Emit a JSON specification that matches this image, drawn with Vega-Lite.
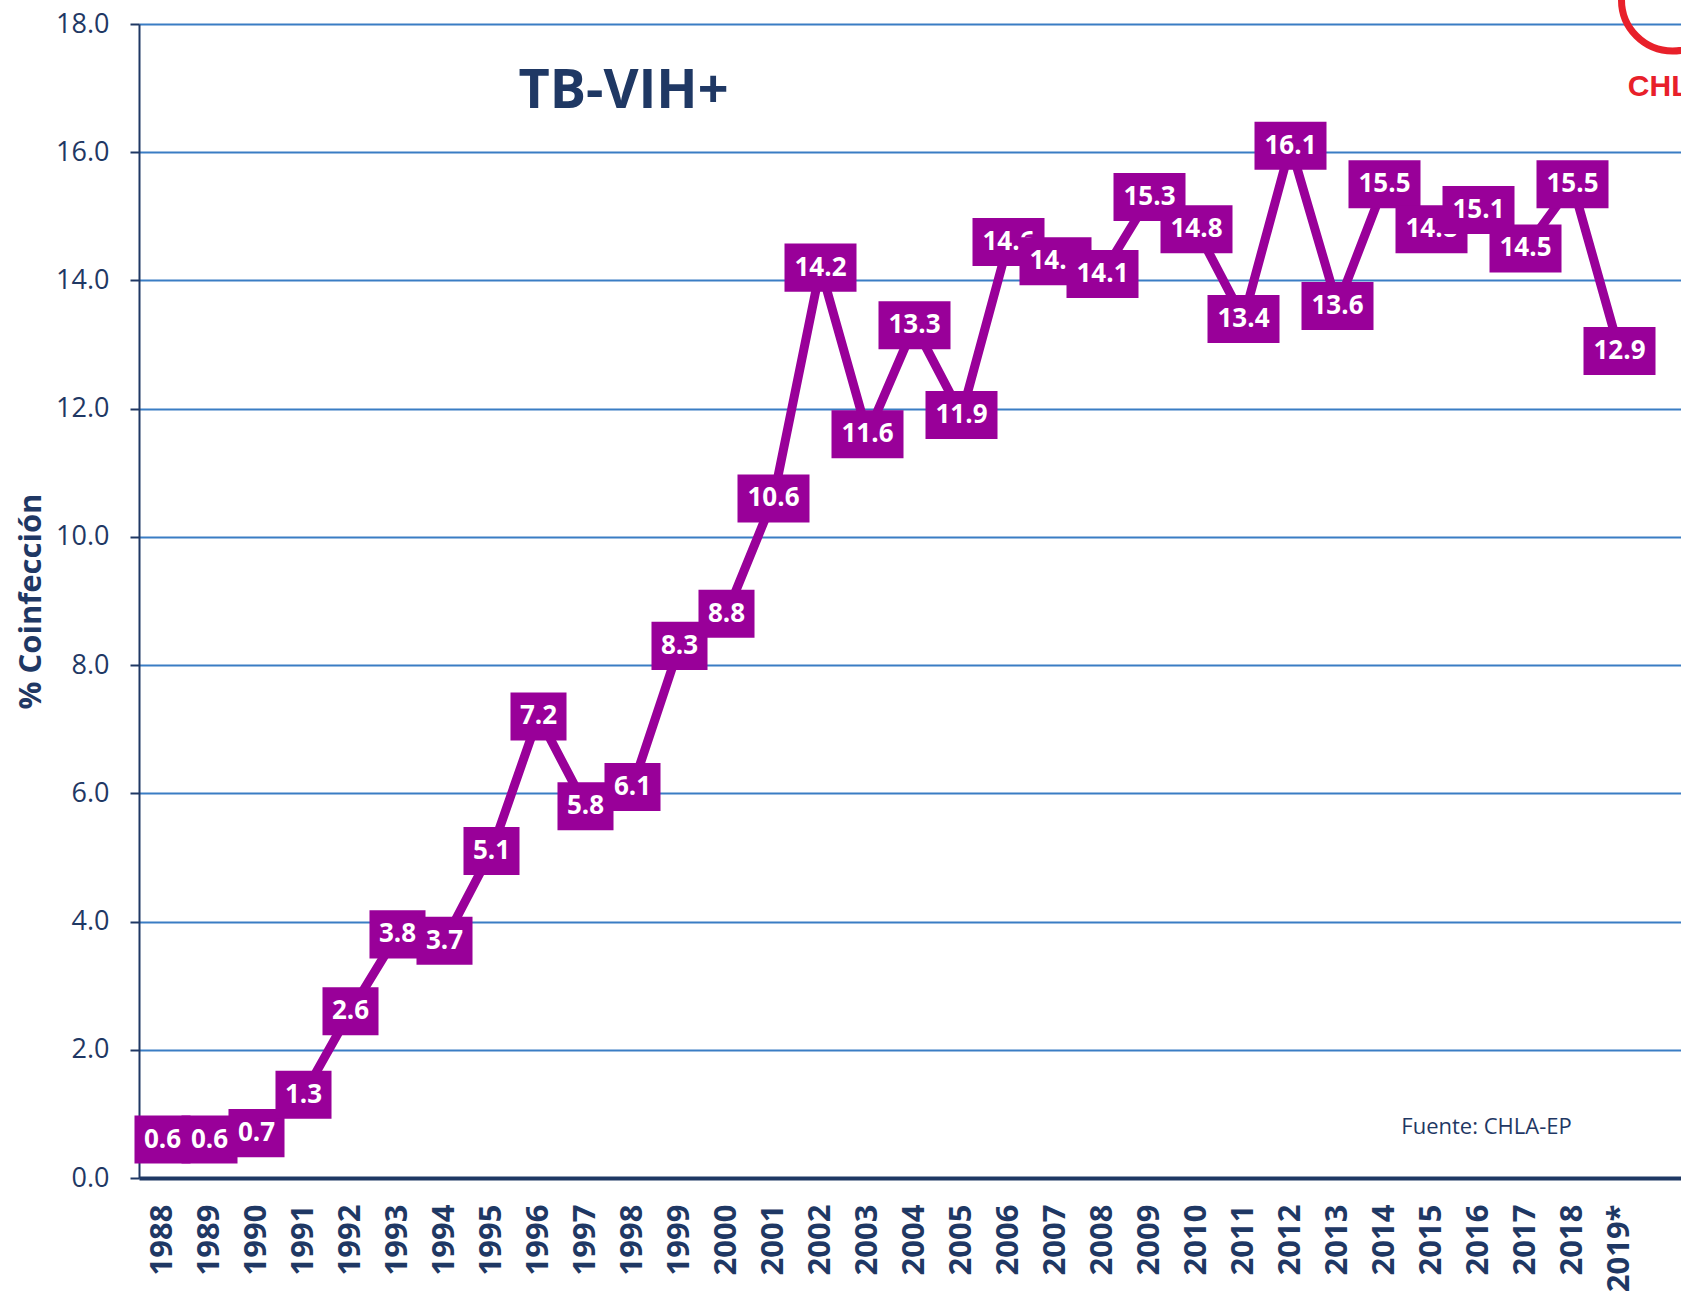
{
  "$schema": "https://vega.github.io/schema/vega-lite/v6.json",
  "width": 1542,
  "height": 1154,
  "autosize": {"type": "none"},
  "padding": {"left": 139, "top": 24, "right": 0, "bottom": 118},
  "background": "white",
  "data": {"values": [
    {"year": "1988", "v": 0.6}, {"year": "1989", "v": 0.6}, {"year": "1990", "v": 0.7}, {"year": "1991", "v": 1.3},
    {"year": "1992", "v": 2.6}, {"year": "1993", "v": 3.8}, {"year": "1994", "v": 3.7}, {"year": "1995", "v": 5.1},
    {"year": "1996", "v": 7.2}, {"year": "1997", "v": 5.8}, {"year": "1998", "v": 6.1}, {"year": "1999", "v": 8.3},
    {"year": "2000", "v": 8.8}, {"year": "2001", "v": 10.6}, {"year": "2002", "v": 14.2}, {"year": "2003", "v": 11.6},
    {"year": "2004", "v": 13.3}, {"year": "2005", "v": 11.9}, {"year": "2006", "v": 14.6}, {"year": "2007", "v": 14.3},
    {"year": "2008", "v": 14.1}, {"year": "2009", "v": 15.3}, {"year": "2010", "v": 14.8}, {"year": "2011", "v": 13.4},
    {"year": "2012", "v": 16.1}, {"year": "2013", "v": 13.6}, {"year": "2014", "v": 15.5}, {"year": "2015", "v": 14.8},
    {"year": "2016", "v": 15.1}, {"year": "2017", "v": 14.5}, {"year": "2018", "v": 15.5}, {"year": "2019*", "v": 12.9}
  ]},
  "encoding": {
    "x": {"field": "year", "type": "ordinal", "sort": null,
      "scale": {"type": "point", "domain": ["1988","1989","1990","1991","1992","1993","1994","1995","1996","1997","1998","1999","2000","2001","2002","2003","2004","2005","2006","2007","2008","2009","2010","2011","2012","2013","2014","2015","2016","2017","2018","2019*"," "], "range": [0, 1551], "padding": 0.5},
      "axis": {"title": null, "labelAngle": -90, "labelFont": "Open Sans", "labelFontSize": 31, "labelFontWeight": "bold", "labelColor": "#1F3864", "labelPadding": 26, "labelOverlap": false, "ticks": false, "tickSize": 0, "domainColor": "#1F3864", "domainWidth": 4, "grid": false}},
    "y": {"field": "v", "type": "quantitative",
      "scale": {"domain": [0, 18], "nice": false},
      "axis": {"title": "% Coinfección", "values": [0, 2, 4, 6, 8, 10, 12, 14, 16, 18], "format": ".1f", "labelFont": "Open Sans", "labelFontSize": 27, "labelColor": "#1F3864", "labelPadding": 21, "tickSize": 9, "tickWidth": 2, "tickColor": "#1F3864", "domainColor": "#1F3864", "domainWidth": 2, "grid": true, "gridColor": "#3A7DC4", "gridWidth": 2, "titleFont": "Open Sans", "titleFontSize": 31, "titleFontWeight": "bold", "titleColor": "#1F3864", "titlePadding": 8}}
  },
  "layer": [
    {"mark": {"type": "line", "color": "#990099", "strokeWidth": 9}},
    {"transform": [{"filter": "datum.year == '1988'"}], "layer": [{"mark": {"type": "point", "shape": "M-0.778,-0.667L0.778,-0.667L0.778,0.667L-0.778,0.667Z"}}, {"mark": {"type": "text"}, "encoding": {"text": {"field": "v", "format": ".1f"}}}]},
    {"transform": [{"filter": "datum.year == '1989'"}], "layer": [{"mark": {"type": "point", "shape": "M-0.778,-0.667L0.778,-0.667L0.778,0.667L-0.778,0.667Z"}}, {"mark": {"type": "text"}, "encoding": {"text": {"field": "v", "format": ".1f"}}}]},
    {"transform": [{"filter": "datum.year == '1990'"}], "layer": [{"mark": {"type": "point", "shape": "M-0.778,-0.667L0.778,-0.667L0.778,0.667L-0.778,0.667Z"}}, {"mark": {"type": "text"}, "encoding": {"text": {"field": "v", "format": ".1f"}}}]},
    {"transform": [{"filter": "datum.year == '1991'"}], "layer": [{"mark": {"type": "point", "shape": "M-0.778,-0.667L0.778,-0.667L0.778,0.667L-0.778,0.667Z"}}, {"mark": {"type": "text"}, "encoding": {"text": {"field": "v", "format": ".1f"}}}]},
    {"transform": [{"filter": "datum.year == '1992'"}], "layer": [{"mark": {"type": "point", "shape": "M-0.778,-0.667L0.778,-0.667L0.778,0.667L-0.778,0.667Z"}}, {"mark": {"type": "text"}, "encoding": {"text": {"field": "v", "format": ".1f"}}}]},
    {"transform": [{"filter": "datum.year == '1993'"}], "layer": [{"mark": {"type": "point", "shape": "M-0.778,-0.667L0.778,-0.667L0.778,0.667L-0.778,0.667Z"}}, {"mark": {"type": "text"}, "encoding": {"text": {"field": "v", "format": ".1f"}}}]},
    {"transform": [{"filter": "datum.year == '1994'"}], "layer": [{"mark": {"type": "point", "shape": "M-0.778,-0.667L0.778,-0.667L0.778,0.667L-0.778,0.667Z"}}, {"mark": {"type": "text"}, "encoding": {"text": {"field": "v", "format": ".1f"}}}]},
    {"transform": [{"filter": "datum.year == '1995'"}], "layer": [{"mark": {"type": "point", "shape": "M-0.778,-0.667L0.778,-0.667L0.778,0.667L-0.778,0.667Z"}}, {"mark": {"type": "text"}, "encoding": {"text": {"field": "v", "format": ".1f"}}}]},
    {"transform": [{"filter": "datum.year == '1996'"}], "layer": [{"mark": {"type": "point", "shape": "M-0.778,-0.667L0.778,-0.667L0.778,0.667L-0.778,0.667Z"}}, {"mark": {"type": "text"}, "encoding": {"text": {"field": "v", "format": ".1f"}}}]},
    {"transform": [{"filter": "datum.year == '1997'"}], "layer": [{"mark": {"type": "point", "shape": "M-0.778,-0.667L0.778,-0.667L0.778,0.667L-0.778,0.667Z"}}, {"mark": {"type": "text"}, "encoding": {"text": {"field": "v", "format": ".1f"}}}]},
    {"transform": [{"filter": "datum.year == '1998'"}], "layer": [{"mark": {"type": "point", "shape": "M-0.778,-0.667L0.778,-0.667L0.778,0.667L-0.778,0.667Z"}}, {"mark": {"type": "text"}, "encoding": {"text": {"field": "v", "format": ".1f"}}}]},
    {"transform": [{"filter": "datum.year == '1999'"}], "layer": [{"mark": {"type": "point", "shape": "M-0.778,-0.667L0.778,-0.667L0.778,0.667L-0.778,0.667Z"}}, {"mark": {"type": "text"}, "encoding": {"text": {"field": "v", "format": ".1f"}}}]},
    {"transform": [{"filter": "datum.year == '2000'"}], "layer": [{"mark": {"type": "point", "shape": "M-0.778,-0.667L0.778,-0.667L0.778,0.667L-0.778,0.667Z"}}, {"mark": {"type": "text"}, "encoding": {"text": {"field": "v", "format": ".1f"}}}]},
    {"transform": [{"filter": "datum.year == '2001'"}], "layer": [{"mark": {"type": "point", "shape": "M-1,-0.667L1,-0.667L1,0.667L-1,0.667Z"}}, {"mark": {"type": "text"}, "encoding": {"text": {"field": "v", "format": ".1f"}}}]},
    {"transform": [{"filter": "datum.year == '2002'"}], "layer": [{"mark": {"type": "point", "shape": "M-1,-0.667L1,-0.667L1,0.667L-1,0.667Z"}}, {"mark": {"type": "text"}, "encoding": {"text": {"field": "v", "format": ".1f"}}}]},
    {"transform": [{"filter": "datum.year == '2003'"}], "layer": [{"mark": {"type": "point", "shape": "M-1,-0.667L1,-0.667L1,0.667L-1,0.667Z"}}, {"mark": {"type": "text"}, "encoding": {"text": {"field": "v", "format": ".1f"}}}]},
    {"transform": [{"filter": "datum.year == '2004'"}], "layer": [{"mark": {"type": "point", "shape": "M-1,-0.667L1,-0.667L1,0.667L-1,0.667Z"}}, {"mark": {"type": "text"}, "encoding": {"text": {"field": "v", "format": ".1f"}}}]},
    {"transform": [{"filter": "datum.year == '2005'"}], "layer": [{"mark": {"type": "point", "shape": "M-1,-0.667L1,-0.667L1,0.667L-1,0.667Z"}}, {"mark": {"type": "text"}, "encoding": {"text": {"field": "v", "format": ".1f"}}}]},
    {"transform": [{"filter": "datum.year == '2006'"}], "layer": [{"mark": {"type": "point", "shape": "M-1,-0.667L1,-0.667L1,0.667L-1,0.667Z"}}, {"mark": {"type": "text"}, "encoding": {"text": {"field": "v", "format": ".1f"}}}]},
    {"transform": [{"filter": "datum.year == '2007'"}], "layer": [{"mark": {"type": "point", "shape": "M-1,-0.667L1,-0.667L1,0.667L-1,0.667Z"}}, {"mark": {"type": "text"}, "encoding": {"text": {"field": "v", "format": ".1f"}}}]},
    {"transform": [{"filter": "datum.year == '2008'"}], "layer": [{"mark": {"type": "point", "shape": "M-1,-0.667L1,-0.667L1,0.667L-1,0.667Z"}}, {"mark": {"type": "text"}, "encoding": {"text": {"field": "v", "format": ".1f"}}}]},
    {"transform": [{"filter": "datum.year == '2009'"}], "layer": [{"mark": {"type": "point", "shape": "M-1,-0.667L1,-0.667L1,0.667L-1,0.667Z"}}, {"mark": {"type": "text"}, "encoding": {"text": {"field": "v", "format": ".1f"}}}]},
    {"transform": [{"filter": "datum.year == '2010'"}], "layer": [{"mark": {"type": "point", "shape": "M-1,-0.667L1,-0.667L1,0.667L-1,0.667Z"}}, {"mark": {"type": "text"}, "encoding": {"text": {"field": "v", "format": ".1f"}}}]},
    {"transform": [{"filter": "datum.year == '2011'"}], "layer": [{"mark": {"type": "point", "shape": "M-1,-0.667L1,-0.667L1,0.667L-1,0.667Z"}}, {"mark": {"type": "text"}, "encoding": {"text": {"field": "v", "format": ".1f"}}}]},
    {"transform": [{"filter": "datum.year == '2012'"}], "layer": [{"mark": {"type": "point", "shape": "M-1,-0.667L1,-0.667L1,0.667L-1,0.667Z"}}, {"mark": {"type": "text"}, "encoding": {"text": {"field": "v", "format": ".1f"}}}]},
    {"transform": [{"filter": "datum.year == '2013'"}], "layer": [{"mark": {"type": "point", "shape": "M-1,-0.667L1,-0.667L1,0.667L-1,0.667Z"}}, {"mark": {"type": "text"}, "encoding": {"text": {"field": "v", "format": ".1f"}}}]},
    {"transform": [{"filter": "datum.year == '2014'"}], "layer": [{"mark": {"type": "point", "shape": "M-1,-0.667L1,-0.667L1,0.667L-1,0.667Z"}}, {"mark": {"type": "text"}, "encoding": {"text": {"field": "v", "format": ".1f"}}}]},
    {"transform": [{"filter": "datum.year == '2015'"}], "layer": [{"mark": {"type": "point", "shape": "M-1,-0.667L1,-0.667L1,0.667L-1,0.667Z"}}, {"mark": {"type": "text"}, "encoding": {"text": {"field": "v", "format": ".1f"}}}]},
    {"transform": [{"filter": "datum.year == '2016'"}], "layer": [{"mark": {"type": "point", "shape": "M-1,-0.667L1,-0.667L1,0.667L-1,0.667Z"}}, {"mark": {"type": "text"}, "encoding": {"text": {"field": "v", "format": ".1f"}}}]},
    {"transform": [{"filter": "datum.year == '2017'"}], "layer": [{"mark": {"type": "point", "shape": "M-1,-0.667L1,-0.667L1,0.667L-1,0.667Z"}}, {"mark": {"type": "text"}, "encoding": {"text": {"field": "v", "format": ".1f"}}}]},
    {"transform": [{"filter": "datum.year == '2018'"}], "layer": [{"mark": {"type": "point", "shape": "M-1,-0.667L1,-0.667L1,0.667L-1,0.667Z"}}, {"mark": {"type": "text"}, "encoding": {"text": {"field": "v", "format": ".1f"}}}]},
    {"transform": [{"filter": "datum.year == '2019*'"}], "layer": [{"mark": {"type": "point", "shape": "M-1,-0.667L1,-0.667L1,0.667L-1,0.667Z"}}, {"mark": {"type": "text"}, "encoding": {"text": {"field": "v", "format": ".1f"}}}]},
    {"transform": [{"filter": "datum.year == '1997'"}], "mark": {"type": "text", "text": "TB-VIH+", "font": "Open Sans", "fontSize": 54, "fontWeight": "bold", "fill": "#1F3864", "color": "#1F3864", "align": "center", "baseline": "alphabetic", "dx": 38}, "encoding": {"y": {"datum": 16.69, "type": "quantitative"}}},
    {"transform": [{"filter": "datum.year == '2016'"}], "mark": {"type": "text", "text": "Fuente: CHLA-EP", "font": "Open Sans", "fontSize": 22, "fontWeight": "normal", "fill": "#1F3864", "color": "#1F3864", "align": "center", "baseline": "alphabetic", "dx": 8}, "encoding": {"y": {"datum": 0.69, "type": "quantitative"}}},
    {"transform": [{"filter": "datum.year == '2019*'"}], "mark": {"type": "point", "shape": "circle", "filled": false, "size": 10404, "stroke": "#E8202A", "fill": "transparent", "color": "#E8202A", "strokeWidth": 7, "opacity": 1, "xOffset": 53}, "encoding": {"y": {"datum": 18.374, "type": "quantitative"}}},
    {"transform": [{"filter": "datum.year == '2019*'"}], "mark": {"type": "text", "text": "CHLA", "font": "Liberation Sans", "fontSize": 30, "fontWeight": "bold", "fill": "#E8202A", "color": "#E8202A", "align": "center", "baseline": "alphabetic", "dx": 50}, "encoding": {"y": {"datum": 16.87, "type": "quantitative"}}}
  ],
  "config": {
    "view": {"stroke": null},
    "point": {"size": 5184, "filled": true, "color": "#990099", "opacity": 1, "strokeWidth": 0},
    "text": {"font": "Open Sans", "fontSize": 26, "fontWeight": "bold", "color": "white", "align": "center", "baseline": "middle"}
  }
}
